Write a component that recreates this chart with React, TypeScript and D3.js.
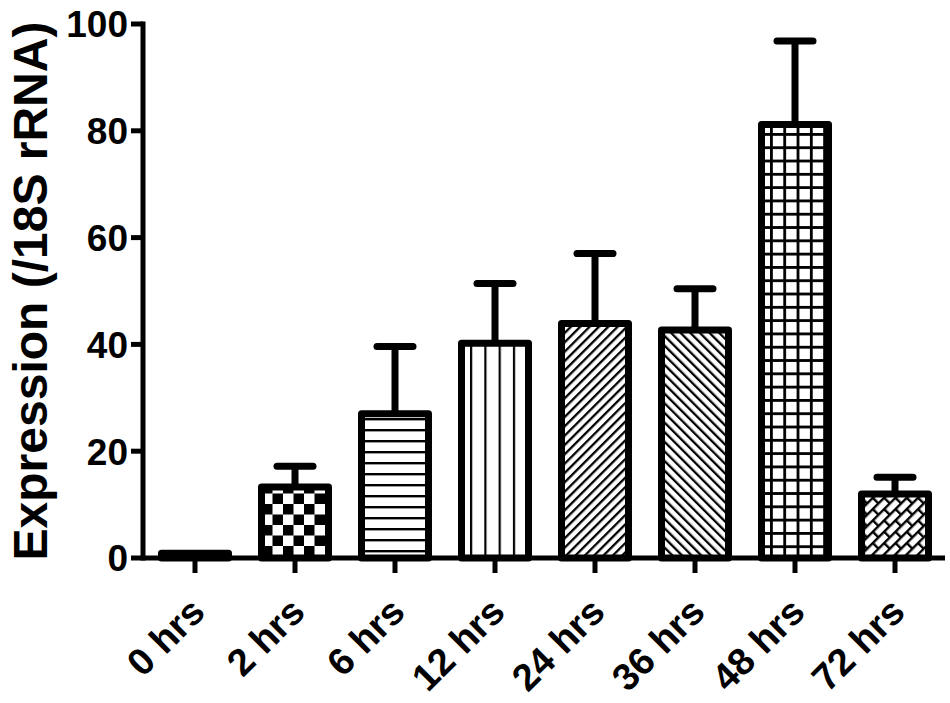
import * as d3 from 'd3';

// values
const categories = ["0 hrs", "2 hrs", "6 hrs", "12 hrs", "24 hrs", "36 hrs", "48 hrs", "72 hrs"];
const means = [0.9, 13.3, 27.0, 40.2, 43.9, 42.7, 81.2, 12.0];
const upperErrors = [0.9, 17.2, 39.6, 51.4, 57.0, 50.4, 96.8, 15.1];
const fills = ["solid", "checker", "hlines", "vlines", "diagUp", "diagDown", "grid", "brick"];
const yTicks = [0, 20, 40, 60, 80, 100];

const W = 950, H = 703;
const left = 143, right = 945, top = 24, bottom = 558;
const font = "'Liberation Sans', Arial, Helvetica, sans-serif";

const x = d3.scaleBand<string>().domain(categories).range([left + 2, right]).paddingInner(0.33).paddingOuter(0.165);
const y = d3.scaleLinear().domain([0, 100]).range([bottom, top]);

function Patterns() {
    return (
        <defs>
            <pattern id="checker" patternUnits="userSpaceOnUse" width={21} height={21} x={262} y={0}>
                <rect width={21} height={21} fill="#fff" />
                <rect width={10.5} height={10.5} fill="#000" />
                <rect x={10.5} y={10.5} width={10.5} height={10.5} fill="#000" />
            </pattern>
            <pattern id="hlines" patternUnits="userSpaceOnUse" width={11} height={11}>
                <rect width={11} height={11} fill="#fff" />
                <rect y={0} width={11} height={2.4} fill="#000" />
            </pattern>
            <pattern id="vlines" patternUnits="userSpaceOnUse" width={14.3} height={14} x={470}>
                <rect width={14.3} height={14} fill="#fff" />
                <rect x={0} width={2.2} height={14} fill="#000" />
            </pattern>
            <pattern id="diagUp" patternUnits="userSpaceOnUse" width={6.6} height={6.6} patternTransform="rotate(45)">
                <rect width={6.6} height={6.6} fill="#fff" />
                <rect width={2.3} height={6.6} fill="#000" />
            </pattern>
            <pattern id="diagDown" patternUnits="userSpaceOnUse" width={6.8} height={6.8} patternTransform="rotate(-45)">
                <rect width={6.8} height={6.8} fill="#fff" />
                <rect width={2.3} height={6.8} fill="#000" />
            </pattern>
            <pattern id="grid" patternUnits="userSpaceOnUse" width={13.3} height={13.3} x={770} y={0}>
                <rect width={13.3} height={13.3} fill="#fff" />
                <rect width={2.8} height={13.3} fill="#000" />
                <rect width={13.3} height={2.8} fill="#000" />
            </pattern>
            <pattern id="brick" patternUnits="userSpaceOnUse" width={16} height={16} patternTransform="rotate(-45)">
                <rect width={16} height={16} fill="#fff" />
                <rect y={0} width={16} height={2.4} fill="#000" />
                <rect y={8} width={16} height={2.4} fill="#000" />
                <rect x={0} y={0} width={2.4} height={8} fill="#000" />
                <rect x={8} y={8} width={2.4} height={8} fill="#000" />
            </pattern>
        </defs>
    );
}

export default function App() {
    const bw = x.bandwidth();
    return (
        <svg width={W} height={H} style={{ position: 'absolute', left: 0, top: 0, background: '#fff' }}>
            <Patterns />
            {/* bars */}
            {categories.map((c, i) => (
                <rect key={c} x={x(c)} y={y(means[i])} width={bw} height={y(0) - y(means[i])}
                    fill={fills[i] === "solid" ? "#000" : `url(#${fills[i]})`}
                    stroke="#000" strokeWidth={7} strokeLinejoin="round" />
            ))}
            {/* error bars (upper only) */}
            {categories.map((c, i) => {
                const cx = (x(c) as number) + bw / 2;
                if (upperErrors[i] <= means[i]) return null;
                return (
                    <g key={c} stroke="#000" strokeWidth={7} strokeLinecap="round">
                        <line x1={cx} x2={cx} y1={y(means[i])} y2={y(upperErrors[i])} strokeLinecap="butt" />
                        <line x1={cx - 18} x2={cx + 18} y1={y(upperErrors[i])} y2={y(upperErrors[i])} />
                    </g>
                );
            })}
            {/* y axis */}
            <line x1={left} x2={left} y1={y(100) - 2.5} y2={bottom + 2.5} stroke="#000" strokeWidth={5} />
            {yTicks.map(t => (
                <g key={t}>
                    <line x1={left - 12} x2={left} y1={y(t)} y2={y(t)} stroke="#000" strokeWidth={5} />
                    <text x={left - 15} y={y(t)} dy="0.36em" textAnchor="end" fontFamily={font}
                        fontWeight="bold" fontSize={37}>{t}</text>
                </g>
            ))}
            {/* x axis */}
            <line x1={left} x2={right} y1={bottom} y2={bottom} stroke="#000" strokeWidth={5} />
            {categories.map(c => {
                const cx = (x(c) as number) + bw / 2;
                return (
                    <g key={c}>
                        <line x1={cx} x2={cx} y1={bottom} y2={bottom + 15} stroke="#000" strokeWidth={5} />
                        <text transform={`translate(${cx + 12},${bottom + 56}) rotate(-45)`} textAnchor="end"
                            fontFamily={font} fontWeight="bold" fontSize={38}>{c}</text>
                    </g>
                );
            })}
            <text transform={`translate(47,${(top + bottom) / 2}) rotate(-90)`} textAnchor="middle"
                fontFamily={font} fontWeight="bold" fontSize={48}>Expression (/18S rRNA)</text>
        </svg>
    );
}
